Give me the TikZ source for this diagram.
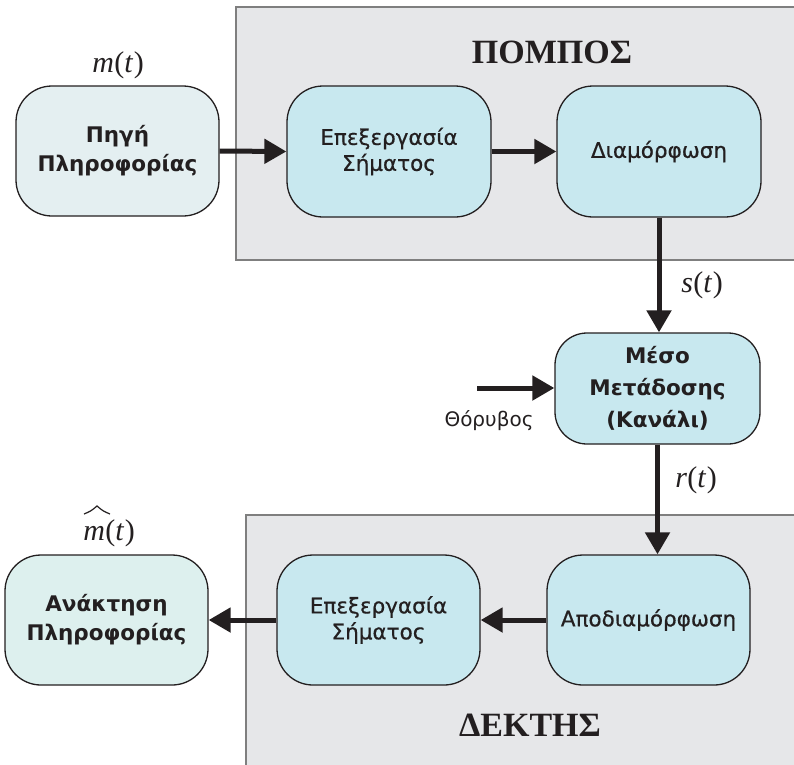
\documentclass[tikz,border=0pt]{standalone}
\usepackage[no-math]{fontspec}
\setmainfont{DejaVu Sans}
\newfontfamily\grserif{Liberation Serif}
\newfontfamily\medfont{DejaVu Sans}[UprightFeatures={FakeBold=0.6}]
\usetikzlibrary{arrows.meta}
\definecolor{boxfill}{HTML}{C8E8EF}
\definecolor{srcfill}{HTML}{E4EFF1}
\definecolor{dstfill}{HTML}{DDF0EE}
\definecolor{panel}{HTML}{E6E7E9}
\definecolor{panelline}{HTML}{7F7F7F}
\definecolor{ink}{HTML}{231F20}
\newcommand{\sgn}[2]{{\grserif\itshape #1\kern0.5pt}{\grserif(}{\grserif\itshape #2\kern1pt}{\grserif)}}
\tikzset{
  blk/.style={draw=ink, line width=1.3pt, rounded corners=36pt,
    minimum width=204pt, minimum height=131pt, fill=boxfill,
    align=center, inner sep=0pt, text=ink,
    font=\fontsize{21.5}{26}\selectfont\medfont},
  bblk/.style={blk, font=\fontsize{21.5}{29}\selectfont\bfseries},
  arr/.style={line width=5pt, draw=ink,
    -{Triangle[length=22pt,width=24pt]}},
  sig/.style={text=ink, font=\fontsize{30}{32}\selectfont},
  hat/.style={draw=ink, line width=1.2pt, line join=miter},
  ttl/.style={text=ink, font=\fontsize{34}{38}\selectfont\grserif\bfseries},
  pnl/.style={fill=panel, draw=panelline, line width=1.2pt}
}
\begin{document}
\begin{tikzpicture}[x=1pt,y=-1pt]
\useasboundingbox (0,0) rectangle (794,764);
% panels
\path[pnl] (236,7) rectangle (800,260);
\path[pnl] (246,515) rectangle (800,770);
\node[ttl] (tx) at (552,52) {ΠΟΜΠΟΣ};
\node[ttl] (rx) at (530,725) {ΔΕΚΤΗΣ};
% blocks
\node[bblk, fill=srcfill, minimum width=203pt, minimum height=130pt] (src) at (117.5,151) {Πηγή\\Πληροφορίας};
\node[blk] (proc1) at (389,151.5) {Επεξεργασία\\Σήματος};
\node[blk] (mod) at (659,151.5) {Διαμόρφωση};
\node[bblk, minimum width=205pt, minimum height=111pt, rounded corners=32pt, font=\fontsize{21.5}{32}\selectfont\bfseries] (chan) at (657.5,388.5) {Μέσο\\Μετάδοσης\\(Κανάλι)};
\node[blk, minimum width=203pt, minimum height=130pt] (demod) at (648.5,620) {Αποδιαμόρφωση};
\node[blk, minimum width=203pt, minimum height=130pt] (proc2) at (378.5,620) {Επεξεργασία\\Σήματος};
\node[bblk, fill=dstfill, minimum width=203pt, minimum height=130pt] (dst) at (106.5,620) {Ανάκτηση\\Πληροφορίας};
% signal labels
\node[sig] (m) at (118,65) {\sgn{m}{t}};
\node[sig] (mh) at (109,533) {\sgn{m}{t}};
\draw[hat] ([shift={(-25,-19)}]mh.center) .. controls ([shift={(-18,-22)}]mh.center) .. ([shift={(-12,-27)}]mh.center)
  .. controls ([shift={(-6,-22)}]mh.center) .. ([shift={(1,-19)}]mh.center);
\node[sig] (s) at (702,285) {\sgn{s}{t}};
\node[sig] (r) at (696,480) {\sgn{r}{t}};
\node[text=ink, font=\fontsize{20}{22}\selectfont] (noise) at (489,421) {Θόρυβος};
% connectors
\draw[arr] (src.east) -- (proc1.west);
\draw[arr] (proc1.east) -- (mod.west);
\draw[arr] (mod.south) -- (mod.south |- chan.north);
\coordinate (nz) at (477,388);
\draw[arr] (nz) -- (chan.west |- nz);
\draw[arr] (chan.south) -- (chan.south |- demod.north);
\draw[arr] (demod.west) -- (proc2.east);
\draw[arr] (proc2.west) -- (dst.east);
\end{tikzpicture}
\end{document}
